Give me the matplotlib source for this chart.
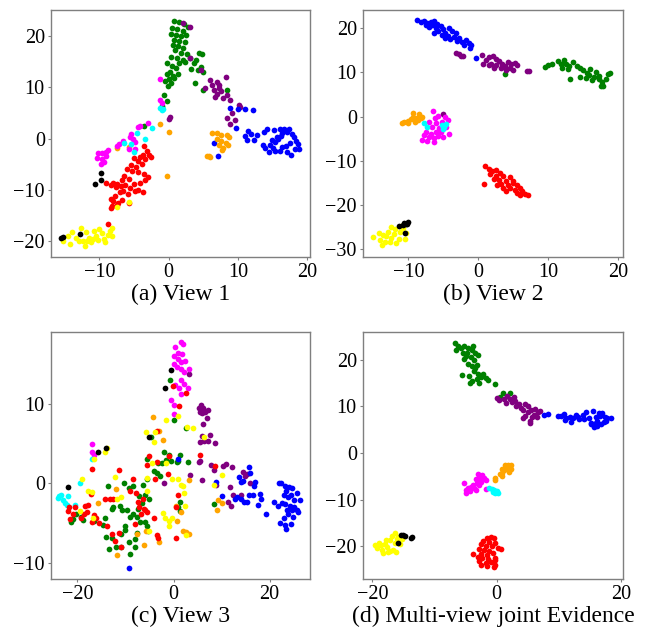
import matplotlib
matplotlib.use("Agg")
import matplotlib.pyplot as plt
import numpy as np

plt.rcParams["font.family"] = ["Liberation Serif", "DejaVu Serif"]

COLORS = ["green", "purple", "blue", "orange", "magenta", "cyan", "red", "yellow", "black"]

# ---- (a) View 1 ----
a_green = [(0.7, 23), (1.5, 22.8), (2.2, 22.3), (2.8, 21.8), (0.5, 21.5), (1.2, 21.3), (2.0, 21.0),
           (0.3, 20.5), (1.0, 20.2), (1.8, 20.0), (2.5, 20.3), (0.8, 19.3), (1.5, 19.0), (2.3, 18.8),
           (0.6, 18.3), (1.3, 18.0), (2.1, 17.6), (0.9, 17.2), (1.7, 16.8), (2.6, 16.5), (0.4, 16.0),
           (1.2, 15.7), (2.0, 15.4), (1.5, 14.8), (2.4, 15.0), (-0.2, 14.7), (0.5, 14.2), (1.0, 13.8),
           (0.2, 13.0), (-0.3, 12.6), (0.6, 12.3), (0.0, 11.6), (-0.5, 11.2), (0.3, 10.8), (-0.1, 10.3),
           (0.8, 11.8), (1.3, 12.7), (3.0, 15.8), (3.6, 14.8), (4.3, 16.7), (4.8, 16.5), (4.0, 15.3),
           (4.6, 14.0), (3.2, 13.6), (5.0, 13.0), (3.8, 10.8), (5.0, 9.5), (8.4, 9.5), (4.2, 13.4),
           (-0.7, 8.6), (-0.2, 7.3), (-0.9, 6.3), (-1.0, 6.0), (-3.5, 2.5)]
a_purple = [(2.1, 22.5), (3.0, 21.7), (3.1, 15.7), (4.7, 13.3), (6.0, 11.5), (7.0, 11.0), (8.2, 12.0),
            (5.3, 9.9), (6.5, 9.5), (7.5, 9.2), (6.7, 8.2), (7.8, 7.9), (8.9, 7.6), (8.4, 8.6),
            (7.3, 10.4), (10.1, 6.6), (10.3, 6.2), (6.3, 10.5), (7.2, 9.9), (8.4, 4.0), (8.9, 2.9),
            (9.5, 3.7), (9.1, 5.0), (0.2, 4.3), (0.1, 3.8), (7.0, 8.7)]
a_blue = [(8.8, 6.0), (10.0, 5.7), (11.0, 5.7), (12.2, 5.5), (9.7, 2.1), (11.5, 1.5), (11.9, 1.0),
          (11.0, 0.5), (12.7, 0.7), (11.3, -0.2), (12.3, -0.2), (13.7, 1.2), (14.2, 1.9), (15.2, 1.6),
          (16.0, 1.8), (16.6, 1.9), (17.4, 1.8), (16.4, 1.1), (17.1, 1.2), (17.8, 1.0), (15.6, 0.4),
          (16.2, 0.6), (18.1, 0.3), (18.4, -0.5), (18.6, -1.0), (14.9, -0.2), (15.4, -0.6), (15.8, -0.1),
          (14.6, -1.2), (13.6, -1.3), (13.9, -1.8), (14.5, -2.6), (15.3, -2.5), (16.0, -2.5), (16.3, -1.7),
          (17.1, -2.7), (17.7, -3.2), (18.2, -2.0), (18.8, -2.1), (17.5, -0.8), (16.9, -1.4), (15.0, -1.9),
          (7.1, -3.3), (6.5, -0.8)]
a_orange = [(6.3, 1.1), (6.9, 1.1), (7.5, 0.7), (8.4, 0.8), (8.7, 0.3), (7.0, 0.0), (7.6, -0.5),
            (8.2, -0.8), (7.3, -1.2), (8.5, -1.3), (7.8, -1.8), (7.7, -2.3), (5.8, -3.3), (5.5, -3.4),
            (5.9, -3.5), (0.0, 1.2), (-0.3, -7.3), (-5.8, -1.7), (-7.5, -1.8), (-1.3, 2.9)]
a_magenta = [(-1.3, 11.6), (-1.2, 7.6), (-1.0, 7.0), (-3.0, 3.1), (-4.2, 2.5), (-4.5, 2.2), (-5.5, 1.0),
             (-5.6, 0.4), (-5.2, -0.1), (-4.8, -0.6), (-6.6, -0.4), (-7.2, -1.0), (-7.5, -1.5),
             (-5.8, -2.1), (-4.8, -2.1), (-10.2, -2.8), (-9.6, -2.9), (-9.0, -2.6), (-10.3, -3.8),
             (-9.6, -3.9), (-9.1, -3.4), (-9.4, -4.5), (-9.8, -5.0), (-8.8, -2.3)]
a_cyan = [(-1.2, 6.0), (-0.8, 5.8), (-1.0, 5.5), (-2.4, 2.1), (-3.4, -0.1), (-4.6, 1.1), (-6.5, -0.8),
          (-5.0, -2.7), (-5.5, -1.0)]
a_red = [(-3.5, -1.5), (-3.2, -2.5), (-2.9, -3.2), (-3.7, -3.1), (-4.1, -3.5), (-2.6, -3.6), (-3.4, -4.0),
         (-4.4, -4.4), (-5.0, -3.8), (-3.8, -5.0), (-5.5, -5.2), (-4.7, -5.6), (-6.0, -6.0), (-5.3, -6.4),
         (-4.4, -6.6), (-6.4, -7.2), (-3.5, -7.0), (-3.0, -7.5), (-3.4, -8.0), (-4.1, -8.6), (-5.0, -8.9),
         (-5.7, -7.8), (-6.8, -8.0), (-7.4, -8.9), (-8.0, -8.7), (-8.3, -9.0), (-7.6, -9.5), (-6.9, -9.3),
         (-6.3, -9.0), (-5.6, -9.7), (-4.8, -10.3), (-3.7, -10.5), (-4.4, -10.0), (-6.6, -10.3),
         (-5.9, -10.8), (-7.1, -10.5), (-7.8, -11.2), (-8.3, -11.8), (-8.0, -12.2), (-7.3, -12.6),
         (-6.7, -12.0), (-8.2, -13.2), (-8.4, -13.6), (-7.5, -13.0), (-9.1, -8.7), (-8.8, -16.6),
         (-5.7, -12.5)]
a_yellow = [(-15.2, -19.9), (-14.6, -19.0), (-14.2, -20.5), (-13.9, -18.3), (-13.4, -19.3), (-12.7, -17.4),
            (-12.4, -20.0), (-12.1, -21.0), (-11.9, -18.2), (-11.5, -19.3), (-11.2, -20.2), (-10.8, -18.0),
            (-10.5, -19.0), (-10.2, -19.8), (-9.7, -18.5), (-9.3, -19.6), (-8.8, -18.9), (-8.5, -18.0),
            (-8.2, -17.5), (-8.2, -19.0), (-11.0, -19.6), (-11.8, -19.9), (-10.0, -17.6), (-9.2, -20.2),
            (-13.0, -20.0), (-7.4, -13.3), (-5.8, -12.4)]
a_black = [(-15.5, -19.3), (-15.2, -19.1), (-12.8, -18.6), (-10.6, -8.8), (-9.8, -8.1), (-9.8, -6.8)]

# ---- (b) View 2 ----
b_green = [(3.8, 9.7), (9.5, 11.3), (10.0, 11.6), (10.5, 11.8), (11.4, 12.5), (11.8, 11.8), (12.3, 12.8),
           (12.6, 12.0), (13.0, 11.5), (13.5, 12.4), (14.1, 11.5), (14.6, 11.0), (12.0, 11.0), (12.8, 10.7),
           (15.0, 10.5), (15.5, 9.9), (16.0, 10.7), (15.8, 9.5), (16.5, 9.0), (16.8, 10.0), (17.2, 9.3),
           (17.3, 8.5), (17.7, 7.8), (17.5, 7.0), (17.9, 6.9), (18.3, 8.6), (18.5, 9.7), (18.9, 9.8),
           (13.1, 8.5), (14.5, 8.9), (15.4, 8.7), (16.3, 8.3)]
b_purple = [(-3.2, 14.3), (-2.8, 14.2), (-2.5, 13.6), (-2.2, 13.8), (0.5, 14.0), (1.1, 12.8), (1.5, 13.5),
            (2.1, 13.8), (2.5, 13.0), (3.0, 12.5), (1.8, 12.0), (2.6, 11.6), (3.4, 12.0), (3.8, 11.5),
            (4.2, 12.3), (4.7, 12.0), (5.2, 12.2), (5.5, 11.6), (4.5, 11.0), (3.2, 11.0), (2.2, 10.9),
            (1.5, 11.6), (0.6, 11.8), (4.0, 10.5), (4.9, 10.6), (6.9, 10.4), (7.2, 10.3), (-5.1, 0.5)]
b_blue = [(-8.8, 21.8), (-8.2, 21.5), (-7.8, 21.7), (-7.4, 21.2), (-6.8, 21.3), (-6.3, 21.6), (-5.9, 21.0),
          (-6.6, 20.6), (-5.4, 20.5), (-6.0, 20.0), (-7.0, 20.3), (-5.0, 19.8), (-5.7, 19.3), (-6.3, 19.0),
          (-4.7, 19.0), (-5.2, 18.5), (-4.4, 18.3), (-3.8, 19.4), (-3.2, 18.8), (-3.5, 18.0), (-2.8, 17.8),
          (-4.0, 17.6), (-3.0, 17.2), (-2.3, 16.9), (-1.8, 17.3), (-2.0, 16.3), (-1.4, 16.7), (-1.0, 16.2),
          (-1.2, 15.6), (-4.8, 17.8), (-0.3, 13.2), (-7.5, 20.8), (-4.2, 20.0)]
b_orange = [(-9.3, 0.8), (-8.5, 0.5), (-8.0, 0.0), (-8.8, -0.3), (-9.6, -0.5), (-10.1, -0.9), (-10.6, -1.3),
            (-10.0, -1.5), (-9.1, -1.2), (-8.6, -0.8), (-8.2, -0.4), (-9.4, -0.1), (-10.9, -1.4)]
b_magenta = [(-6.5, 1.2), (-5.8, 0.2), (-6.2, -0.3), (-4.8, -0.1), (-4.4, -0.7), (-5.2, -1.1), (-6.0, -1.5),
             (-7.0, -1.3), (-6.6, -2.4), (-5.6, -2.6), (-4.6, -2.4), (-7.5, -3.5), (-6.7, -3.8), (-6.0, -3.4),
             (-5.3, -3.5), (-7.8, -4.1), (-7.1, -4.5), (-6.3, -4.9), (-5.7, -4.4), (-8.0, -5.3), (-7.4, -5.5),
             (-6.4, -5.8), (-4.2, -3.9), (-5.0, -4.7)]
b_cyan = [(-7.8, -1.5), (-7.3, -2.4), (-5.2, -1.8), (-4.9, -2.3), (-5.0, -2.8), (-4.6, -1.6)]
b_red = [(1.0, -11.2), (1.5, -11.8), (2.0, -12.2), (2.5, -12.0), (1.7, -12.9), (2.5, -13.3), (3.1, -12.7),
         (3.6, -13.3), (2.2, -14.0), (3.0, -14.3), (3.9, -14.5), (4.6, -13.6), (4.9, -14.5), (3.3, -15.2),
         (4.2, -15.5), (5.0, -15.0), (5.5, -15.4), (4.5, -16.2), (5.3, -16.5), (5.9, -16.1), (6.2, -16.9),
         (6.7, -17.5), (6.0, -17.8), (7.1, -17.8), (5.6, -17.3), (0.8, -15.3), (3.6, -16.0), (4.0, -16.7),
         (2.7, -15.5)]
b_yellow = [(-15.0, -27.2), (-14.2, -26.3), (-14.0, -27.8), (-13.8, -28.9), (-13.4, -28.2), (-13.2, -27.0),
            (-12.9, -26.0), (-12.5, -25.0), (-12.5, -27.5), (-12.0, -26.5), (-11.8, -28.5), (-11.4, -27.6),
            (-11.9, -25.3), (-11.2, -26.0), (-10.8, -25.2), (-10.5, -27.6), (-10.3, -26.3), (-13.6, -26.8),
            (-12.6, -28.4), (-11.0, -24.8)]
b_black = [(-11.4, -24.8), (-10.8, -24.5), (-10.4, -24.3), (-10.2, -24.2), (-10.0, -23.9), (-10.7, -24.1),
           (-10.5, -26.2)]

# ---- (c) View 3 ----
c_green = [(-0.8, 13.0), (0.1, 8.0), (-4.6, 5.8), (-2.0, 3.9), (-1.0, 3.6), (-0.5, 2.8), (1.4, 3.6),
           (0.8, 2.7), (-2.4, 2.6), (-3.2, 2.6), (-1.5, 2.9), (-5.5, 3.1), (-4.0, 1.6), (-3.4, 1.3),
           (-2.8, 0.9), (-5.5, 0.6), (-6.3, -0.2), (-7.1, -1.6), (-6.6, -2.4), (-7.3, -3.2), (-6.0, -1.5),
           (-5.2, -1.9), (-8.5, -0.3), (-9.2, -0.6), (-10.3, 0.0), (-11.2, -2.8), (-10.8, -3.4),
           (-12.8, -3.2), (-13.7, -0.3), (-12.5, -3.0), (-14.2, -4.3), (-14.6, -5.2), (-14.0, -6.7),
           (-13.5, -8.2), (-12.8, -6.9), (-12.0, -8.0), (-11.0, -8.0), (-11.0, -6.3), (-10.1, -5.8),
           (-10.0, -5.3), (-9.0, -4.2), (-9.6, -3.4), (-8.5, -3.8), (-7.7, -4.2), (-7.0, -4.9),
           (-6.0, -4.9), (-5.5, -5.3), (-5.3, -6.0), (-7.5, -6.2), (-8.0, -7.0), (-8.0, -8.0),
           (-9.0, -8.9), (-9.3, -7.3), (-16.5, -4.7), (-18.8, -4.6), (-19.2, -4.2), (-21.3, -4.8),
           (-21.0, -4.5), (-20.3, -3.8), (1.4, -3.5), (1.4, -2.3), (1.0, -3.0), (8.4, -2.6), (3.1, 2.7),
           (1.0, 2.8), (2.5, 7.0)]
c_purple = [(5.3, 9.5), (5.8, 9.8), (6.2, 9.5), (5.6, 9.0), (6.0, 8.8), (6.6, 9.0), (7.1, 9.2), (7.0, 8.2),
            (6.2, 7.5), (6.0, 6.0), (5.5, 5.2), (6.4, 5.3), (7.2, 5.3), (7.6, 6.1), (8.6, 5.1), (5.2, 2.7),
            (5.6, 2.8), (6.0, 0.4), (3.5, 1.1), (-1.9, 0.1), (7.8, 2.3), (8.5, 1.7), (10.3, 2.2),
            (11.0, 2.4), (12.2, 2.0), (8.9, -0.2), (11.8, -0.4), (12.3, -1.5), (11.4, -2.3), (12.0, -2.8),
            (14.5, 1.4), (14.0, -1.5), (14.8, 0.9), (15.2, 1.2), (16.0, 0.1), (3.3, 13.7)]
c_blue = [(1.0, 3.1), (8.8, 0.2), (13.7, 0.8), (14.0, 0.2), (14.4, 0.3), (15.8, 2.1), (15.9, 1.3),
          (17.0, 0.2), (16.8, -0.3), (18.0, -1.3), (18.2, -2.0), (16.5, -1.5), (17.5, -2.7), (14.6, -2.3),
          (15.3, -2.3), (15.8, -1.4), (14.0, -2.0), (13.2, -1.7), (12.7, -1.9), (19.2, -3.9), (10.0, -1.6),
          (21.0, -2.3), (21.7, -2.9), (21.9, 0.1), (22.3, 0.0), (23.1, -0.3), (23.5, -0.9), (24.0, -0.5),
          (24.6, -0.6), (23.0, -1.4), (23.8, -1.7), (24.5, -1.5), (25.6, -1.2), (25.0, -2.1), (26.3, -2.1),
          (22.6, -2.4), (23.3, -2.6), (24.2, -2.8), (25.0, -3.0), (25.7, -3.3), (23.6, -3.4), (24.6, -3.4),
          (23.8, -3.9), (24.8, -4.2), (26.0, -3.6), (22.2, -5.0), (23.2, -5.2), (23.5, -5.7), (24.4, -5.1),
          (22.9, -4.4), (-9.3, -10.6)]
c_orange = [(-4.2, 8.3), (-3.0, 6.6), (-2.1, 5.4), (-12.0, -0.7), (-15.8, -2.5), (-11.7, -9.0), (-6.2, -7.7),
            (-7.7, -6.3), (-5.8, -6.0), (-3.1, -7.4), (0.5, -2.8), (0.8, -4.7), (2.0, -6.0), (2.6, -6.1),
            (3.2, -6.3), (1.5, -3.6), (3.3, 0.4), (9.0, -3.3), (9.3, -2.1), (10.0, -2.5)]
c_magenta = [(0.4, 17.1), (1.5, 17.7), (2.0, 17.5), (1.0, 16.4), (1.8, 16.2), (0.2, 16.0), (0.9, 15.6),
             (1.5, 15.2), (2.4, 15.4), (0.0, 15.0), (0.8, 14.6), (1.6, 14.4), (2.2, 14.0), (3.3, 14.4),
             (1.5, 13.0), (2.1, 12.5), (1.1, 12.0), (0.4, 12.3), (3.1, 12.0), (1.5, 11.2), (-0.5, 10.5),
             (0.0, 9.8), (0.1, 8.7), (-17.0, 5.0), (-17.0, 3.9), (-16.5, 3.6)]
c_cyan = [(-24.0, -1.8), (-23.5, -1.5), (-23.0, -2.1), (-22.5, -2.4), (-21.9, -1.6), (-22.1, -2.7),
          (-20.5, -2.7), (-19.5, 0.0), (-17.0, 3.0), (-23.9, -1.6)]
c_red = [(-0.1, 12.2), (2.5, 11.3), (1.2, 9.7), (5.5, 3.6), (-1.0, 3.4), (-5.1, 3.5), (-5.5, 2.3),
         (-3.5, 6.6), (-17.0, 1.8), (-17.2, -1.3), (-21.8, -3.0), (-21.9, -3.5), (-20.5, -3.0),
         (-21.0, -3.8), (-21.5, -4.5), (-19.3, -4.3), (-18.7, -3.9), (-18.1, -3.6), (-17.8, -2.7),
         (-16.5, -4.0), (-16.2, -4.3), (-18.4, -2.8), (-17.0, -4.9), (-15.5, -5.0), (-14.2, -1.9),
         (-13.2, -2.0), (-12.9, -6.3), (-13.8, -5.3), (-11.3, 1.7), (-11.4, -6.2), (-11.0, -8.0),
         (-12.2, -7.2), (-9.0, -1.0), (-8.4, 0.5), (-7.8, -1.2), (-7.4, -2.3), (-7.2, -3.0), (-6.8, -3.8),
         (-6.2, -3.2), (-5.9, -3.4), (-5.5, -3.6), (-8.0, -5.1), (-6.4, -2.0), (-3.8, 0.5), (-4.0, -4.4),
         (-3.5, -6.5), (-3.3, -6.8), (0.5, -6.8), (1.0, -1.5), (-3.5, 2.7), (-1.2, 1.2), (0.5, -3.0),
         (8.7, 2.2), (-12.5, -2.0)]
c_yellow = [(2.8, 7.1), (4.0, 7.0), (1.0, 8.4), (-1.5, 7.9), (-5.8, 6.4), (-3.8, 6.5), (-4.0, 5.2),
            (-16.5, 3.0), (-13.8, 4.4), (-14.2, 4.0), (-19.0, 0.5), (-17.8, -1.0), (-17.0, -1.1),
            (-19.5, -3.5), (-16.8, -4.3), (-11.0, -1.7), (-11.8, -2.0), (-12.2, 0.8), (-5.5, 0.7),
            (-5.6, -1.0), (-5.2, -6.0), (-4.4, 2.5), (-1.5, 2.5), (-0.4, 0.5), (1.0, 0.5), (1.5, -0.2),
            (2.0, -0.3), (2.1, -1.2), (2.3, -2.8), (-1.7, -4.4), (-0.9, -4.7), (-0.3, -4.3), (-1.0, -5.3),
            (-2.2, -3.7), (2.5, -6.5), (6.3, 5.8), (8.4, -0.2), (10.0, 1.0)]
c_black = [(-0.5, 14.2), (-1.7, 12.0), (-5.1, 5.8), (-15.7, 4.0), (-14.0, 4.5), (-21.9, -0.5)]

# ---- (d) Multi-view joint Evidence ----
d_green = [(-6.7, 23.6), (-6.2, 23.0), (-5.8, 22.4), (-6.5, 22.0), (-5.2, 22.8), (-4.6, 22.5), (-3.8, 23.0),
           (-4.0, 22.0), (-5.5, 21.5), (-4.8, 21.3), (-3.5, 21.5), (-3.0, 21.0), (-4.2, 20.5), (-5.2, 20.2),
           (-3.6, 19.9), (-4.6, 19.0), (-3.9, 18.6), (-3.2, 18.8), (-5.6, 16.7), (-4.5, 16.5), (-3.6, 17.5),
           (-3.0, 17.0), (-2.6, 16.3), (-3.2, 15.8), (-4.0, 15.5), (-4.3, 15.0), (-2.2, 16.8), (-1.8, 16.0),
           (-1.4, 15.6), (-0.3, 14.8), (-2.9, 14.9), (-3.5, 18.2), (-4.9, 20.7), (1.0, 12.9), (2.1, 12.9),
           (0.5, 12.0)]
d_purple = [(0.0, 11.8), (0.4, 11.3), (1.2, 11.6), (1.7, 12.2), (2.2, 11.6), (2.7, 12.0), (1.5, 10.8),
            (2.5, 10.9), (3.0, 11.2), (3.5, 10.5), (3.1, 10.0), (3.9, 9.6), (4.5, 10.5), (4.2, 9.3),
            (5.0, 10.0), (5.5, 9.2), (5.1, 8.7), (6.2, 9.4), (6.6, 8.7), (6.0, 8.2), (7.0, 9.0), (5.6, 7.8),
            (4.6, 8.0), (4.3, 7.5), (5.4, 6.9), (5.3, 6.4), (6.4, 7.6)]
d_blue = [(7.6, 8.2), (8.2, 8.3), (9.8, 8.0), (10.3, 7.9), (10.8, 8.3), (11.2, 7.5), (11.7, 7.8), (12.2, 7.4),
          (11.0, 7.0), (12.0, 6.7), (12.7, 8.1), (13.3, 7.2), (13.8, 8.2), (14.3, 8.8), (14.8, 7.5),
          (15.1, 6.5), (15.5, 8.9), (15.9, 7.6), (16.2, 6.8), (16.6, 7.9), (17.0, 8.5), (17.4, 7.8),
          (17.8, 7.5), (16.8, 6.2), (16.2, 5.8), (15.7, 5.5), (15.2, 6.1), (17.3, 6.6), (16.0, 6.5),
          (17.6, 6.9), (18.3, 7.5), (16.5, 8.6), (14.0, 7.3), (13.0, 7.7)]
d_orange = [(1.3, -2.5), (1.8, -2.5), (2.3, -2.6), (1.6, -3.2), (2.3, -3.5), (1.2, -3.7), (2.0, -4.0),
            (0.9, -4.2), (0.5, -4.5), (0.8, -5.0), (-0.3, -5.3), (-0.2, -5.8), (0.9, -3.5)]
d_magenta = [(-3.0, -4.6), (-2.4, -4.8), (-2.1, -5.4), (-2.8, -5.5), (-3.4, -5.6), (-1.8, -5.8), (-2.5, -6.2),
             (-3.2, -6.4), (-3.8, -6.9), (-2.8, -6.9), (-4.2, -7.3), (-4.6, -7.5), (-3.7, -7.6), (-5.2, -6.5),
             (-5.0, -7.9), (-4.3, -8.2), (-4.9, -8.6), (-1.8, -7.7), (-3.3, -8.0)]
d_cyan = [(-1.2, -7.5), (-0.8, -7.7), (-0.4, -8.0), (-0.2, -8.5), (0.2, -8.5), (0.0, -8.1), (-0.6, -8.3)]
d_red = [(-1.6, -18.2), (-1.0, -18.0), (-0.5, -18.3), (-2.2, -18.8), (-1.3, -19.1), (-0.3, -19.3),
         (-2.6, -19.6), (-1.8, -19.9), (-0.8, -20.0), (-2.9, -20.6), (-2.0, -20.8), (-1.2, -21.0),
         (0.2, -20.4), (0.7, -20.6), (-3.8, -21.7), (-2.5, -21.6), (-1.6, -21.8), (-0.6, -21.5),
         (-2.3, -22.5), (-1.4, -22.8), (-0.3, -22.4), (-2.8, -23.2), (-1.8, -23.5), (-0.9, -23.4),
         (-0.2, -23.0), (-2.5, -24.1), (-1.5, -24.2), (-0.5, -24.5), (-0.2, -24.0), (-3.0, -22.2)]
d_yellow = [(-19.0, -19.2), (-18.6, -19.8), (-19.2, -20.3), (-18.5, -20.7), (-18.0, -19.5), (-17.6, -20.2),
            (-17.2, -18.6), (-16.8, -17.8), (-16.3, -17.2), (-16.0, -18.4), (-16.4, -19.3), (-17.2, -21.0),
            (-18.3, -21.4), (-17.5, -21.2), (-16.7, -20.7), (-16.2, -21.3), (-15.5, -19.6), (-15.8, -18.0),
            (-15.2, -18.5), (-19.6, -19.8), (-17.8, -18.7)]
d_black = [(-15.4, -17.5), (-15.0, -17.6), (-14.7, -17.8), (-13.8, -18.3), (-13.6, -18.1), (-15.9, -19.3)]

titles = ["(a) View 1", "(b) View 2", "(c) View 3", "(d) Multi-view joint Evidence"]
xlims = [(-17.0, 20.4), (-16.5, 20.7), (-25.5, 28.4), (-21.5, 20.3)]
ylims = [(-23.1, 25.1), (-31.7, 24.1), (-12.0, 19.0), (-27.0, 25.9)]
xticks = [[-10, 0, 10, 20], [-10, 0, 10, 20], [-20, 0, 20], [-20, 0, 20]]
yticks = [[-20, -10, 0, 10, 20], [-30, -20, -10, 0, 10, 20], [-10, 0, 10], [-20, -10, 0, 10, 20]]

panels = [
    [a_green, a_purple, a_blue, a_orange, a_magenta, a_cyan, a_red, a_yellow, a_black],
    [b_green, b_purple, b_blue, b_orange, b_magenta, b_cyan, b_red, b_yellow, b_black],
    [c_green, c_purple, c_blue, c_orange, c_magenta, c_cyan, c_red, c_yellow, c_black],
    [d_green, d_purple, d_blue, d_orange, d_magenta, d_cyan, d_red, d_yellow, d_black],
]

W, H = 659, 631
fig = plt.figure(figsize=(W / 100, H / 100), dpi=100)
# axes boxes in pixels: left, top, right, bottom
boxes = [(51, 10, 310, 257), (363, 10, 623, 257), (51, 332, 310, 579), (363, 332, 623, 579)]

for i, (l, t, r, b) in enumerate(boxes):
    ax = fig.add_axes([l / W, 1 - b / H, (r - l) / W, (b - t) / H])
    for pts, col in zip(panels[i], COLORS):
        arr = np.array(pts)
        ax.scatter(arr[:, 0], arr[:, 1], s=17, c=col, linewidths=0)
    ax.set_xlim(*xlims[i])
    ax.set_ylim(*ylims[i])
    ax.set_xticks(xticks[i])
    ax.set_yticks(yticks[i])
    ax.tick_params(labelsize=14.5, length=2.5, width=0.8, color="#808080", pad=2)
    for sp in ax.spines.values():
        sp.set_color("#7f7f7f")
        sp.set_linewidth(1.0)
    ax.set_xlabel(titles[i], fontsize=17, labelpad=1)

fig.savefig("out.png", dpi=100)
